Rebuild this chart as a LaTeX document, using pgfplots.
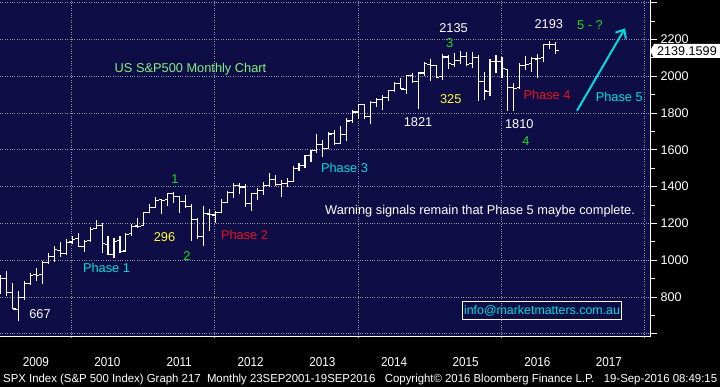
\documentclass[border=0pt]{standalone}
\usepackage{pgfplots}
\pgfplotsset{compat=1.18}
\usepackage{pgfplotstable}
\usepackage{fontspec}
\setmainfont{Liberation Sans}
\usetikzlibrary{arrows.meta}
\definecolor{navy}{RGB}{15,13,70}
\definecolor{gridgray}{RGB}{150,150,165}
\definecolor{lgreen}{RGB}{130,240,130}
\definecolor{bgreen}{RGB}{30,220,30}
\definecolor{acyan}{RGB}{0,220,220}
\definecolor{ared}{RGB}{230,20,30}
\definecolor{ayellow}{RGB}{255,255,60}
\pgfdeclareplotmark{openTick}{\pgfpathmoveto{\pgfpoint{-3pt}{0pt}}\pgfpathlineto{\pgfpoint{0pt}{0pt}}\pgfusepathqstroke}
\pgfdeclareplotmark{closeTick}{\pgfpathmoveto{\pgfpoint{0pt}{0pt}}\pgfpathlineto{\pgfpoint{3pt}{0pt}}\pgfusepathqstroke}
\pgfplotstableread{
m o h l c
-1 888 918 815 903
0 903 944 804 826
1 825 878 735 735
2 730 833 667 798
3 798 889 783 873
4 873 930 866 919
5 923 956 889 919
6 921 997 869 987
7 990 1039 979 1021
8 1020 1080 992 1057
9 1055 1101 1020 1036
10 1036 1114 1029 1096
11 1099 1130 1086 1115
12 1117 1150 1072 1074
13 1074 1112 1045 1104
14 1105 1181 1101 1169
15 1171 1220 1171 1187
16 1189 1205 1041 1089
17 1087 1131 1028 1031
18 1031 1121 1011 1102
19 1108 1129 1040 1049
20 1050 1149 1048 1141
21 1143 1196 1132 1183
22 1186 1227 1173 1181
23 1187 1263 1187 1258
24 1258 1303 1257 1286
25 1289 1344 1289 1327
26 1329 1333 1249 1326
27 1329 1364 1294 1364
28 1365 1371 1311 1345
29 1345 1345 1258 1321
30 1320 1356 1282 1292
31 1292 1308 1102 1219
32 1220 1230 1114 1131
33 1131 1293 1075 1253
34 1251 1277 1158 1247
35 1246 1269 1202 1258
36 1258 1333 1258 1312
37 1312 1378 1312 1366
38 1366 1419 1340 1408
39 1408 1422 1358 1398
40 1398 1415 1292 1310
41 1310 1363 1267 1362
42 1362 1392 1325 1379
43 1379 1426 1355 1407
44 1407 1475 1396 1441
45 1441 1465 1403 1412
46 1412 1434 1343 1416
47 1416 1448 1399 1426
48 1426 1510 1426 1498
49 1498 1530 1485 1515
50 1515 1570 1501 1569
51 1569 1598 1536 1598
52 1597 1687 1581 1631
53 1631 1654 1560 1606
54 1609 1698 1604 1686
55 1690 1710 1627 1633
56 1635 1730 1633 1682
57 1682 1772 1646 1757
58 1759 1814 1747 1806
59 1806 1849 1768 1848
60 1846 1850 1770 1783
61 1782 1867 1738 1859
62 1858 1884 1834 1872
63 1873 1897 1814 1884
64 1885 1925 1863 1924
65 1924 1968 1915 1960
66 1962 1991 1930 1931
67 1929 2005 1904 2003
68 2004 2019 1964 1972
69 1972 2018 1821 2018
70 2018 2075 2001 2068
71 2065 2093 1973 2059
72 2059 2064 1988 1995
73 1997 2119 1981 2105
74 2105 2117 2040 2068
75 2064 2126 2048 2086
76 2087 2135 2068 2107
77 2109 2130 2057 2063
78 2067 2133 2044 2104
79 2104 2113 1867 1972
80 1970 2021 1872 1920
81 1919 2094 1893 2079
82 2080 2117 2019 2080
83 2082 2104 1993 2044
84 2038 2038 1812 1940
85 1937 1963 1810 1932
86 1937 2073 1931 2060
87 2057 2111 2034 2065
88 2067 2103 2025 2097
89 2094 2120 1992 2099
90 2100 2178 2075 2174
91 2173 2193 2147 2171
92 2171 2187 2120 2139
}\spx
\newcommand{\af}{\fontsize{12.8pt}{15pt}\selectfont}
\begin{document}
\begin{tikzpicture}
\fill[black] (0,0) rectangle (720pt,387pt);
\useasboundingbox (0,0) rectangle (720pt,387pt);
\begin{axis}[
  at={(0pt,50pt)}, anchor=south west,
  scale only axis, width=650pt, height=337pt,
  xmin=0, xmax=108.9, ymin=582.6, ymax=2414.7,
  axis background/.style={fill=navy},
  axis x line*=bottom, axis y line*=right,
  axis line style={white, line width=1pt, -},
  xtick={12,36,60,84,108}, xticklabels={}, xtick style={draw=none},
  extra x ticks={0,12,...,108}, extra x tick labels={},
  extra x tick style={xmajorgrids=false, major tick length=33pt, tick align=outside, tick style={draw=gridgray!80, line width=0.8pt}},
  ytick={600,800,...,2400}, minor ytick={700,900,...,2300},
  yticklabels={,800,1000,1200,1400,1600,1800,2000,2200,},
  tick align=outside, major tick length=7pt, minor tick length=5pt,
  ytick style={white, line width=1pt},
  yticklabel style={font=\fontsize{12.6pt}{14pt}\selectfont, text=white},
  xmajorgrids, ymajorgrids,
  grid style={dotted, gridgray, line width=0.8pt},
  clip=true,
]
\addplot[draw=none, forget plot, error bars/.cd, y dir=plus, y explicit,
  error mark=none, error bar style={white, line width=1.1pt, solid}]
  table[x expr=\thisrow{m}+1.1, y=l, y error expr=\thisrow{h}-\thisrow{l}] {\spx};
\addplot[only marks, mark=openTick, mark options={white, line width=1.1pt}]
  table[x expr=\thisrow{m}+1.1, y=o] {\spx};
\addplot[only marks, mark=closeTick, mark options={white, line width=1.1pt}]
  table[x expr=\thisrow{m}+1.1, y=c] {\spx};
\end{axis}
\begin{scope}[x=1pt, y=-1pt, shift={(0pt,387pt)}]
  % price tag
  \fill[white] (650,51) -- (654,44) -- (720,44) -- (720,58) -- (654,58) -- cycle;
  \node[anchor=base west, inner sep=0pt, text=black, font=\fontsize{12.6pt}{14pt}\selectfont] at (657,56) {2139.1599};
  % year labels
  \foreach \yr [count=\i from 0] in {2009,2010,2011,2012,2013,2014,2015,2016,2017}
    \node[anchor=base, inner sep=0pt, text=white, font=\fontsize{13pt}{15pt}\selectfont, xscale=0.9] at ({(12*\i+6)*5.97},367) {\yr};
  % footer
  \node[anchor=base west, inner sep=0pt, text=white] at (3,383)
    {\resizebox{714pt}{\height}{\fontsize{11.6pt}{13pt}\selectfont SPX Index (S\&P 500 Index) Graph 217\ \ Monthly 23SEP2001-19SEP2016\ \ \ Copyright\textcopyright{} 2016 Bloomberg Finance L.P.\ \ \ 19-Sep-2016 08:49:15}};
  % annotations
  \tikzset{ann/.style={anchor=base, inner sep=0pt, font=\af}}
  \node[ann, text=lgreen] at (190.5,73) {US S\&P500 Monthly Chart};
  \node[ann, text=white] at (40,319) {667};
  \node[ann, text=acyan] at (106.5,273) {Phase 1};
  \node[ann, text=ayellow] at (164.5,241.7) {296};
  \node[ann, text=bgreen] at (187,260.7) {2};
  \node[ann, text=bgreen] at (175,184) {1};
  \node[ann, text=ared] at (244.5,240) {Phase 2};
  \node[ann, text=acyan] at (344.5,173) {Phase 3};
  \node[ann, text=white] at (418,126.5) {1821};
  \node[ann, text=white] at (480,215) {Warning signals remain that Phase 5 maybe complete.};
  \node[ann, text=white] at (453.5,32.3) {2135};
  \node[ann, text=bgreen] at (449.7,47.3) {3};
  \node[ann, text=ayellow] at (450.7,103.3) {325};
  \node[ann, text=white] at (519.3,128.3) {1810};
  \node[ann, text=bgreen] at (526,145.7) {4};
  \node[ann, text=ared] at (547,99.3) {Phase 4};
  \node[ann, text=white] at (548.8,28.3) {2193};
  \node[ann, text=bgreen] at (590,29.3) {5 - ?};
  \node[ann, text=acyan] at (619.3,101.7) {Phase 5};
  \draw[acyan, line width=2pt, -{Straight Barb[length=7pt, width=12pt, line width=2pt]}] (577,110.7) -- (625,28.3);
  \draw[white, line width=1pt] (462.7,301.7) rectangle (621.7,319.3);
  \node[anchor=base, inner sep=0pt, text=acyan, font=\fontsize{12.4pt}{14pt}\selectfont] at (542,315) {info@marketmatters.com.au};
\end{scope}
\end{tikzpicture}
\end{document}
